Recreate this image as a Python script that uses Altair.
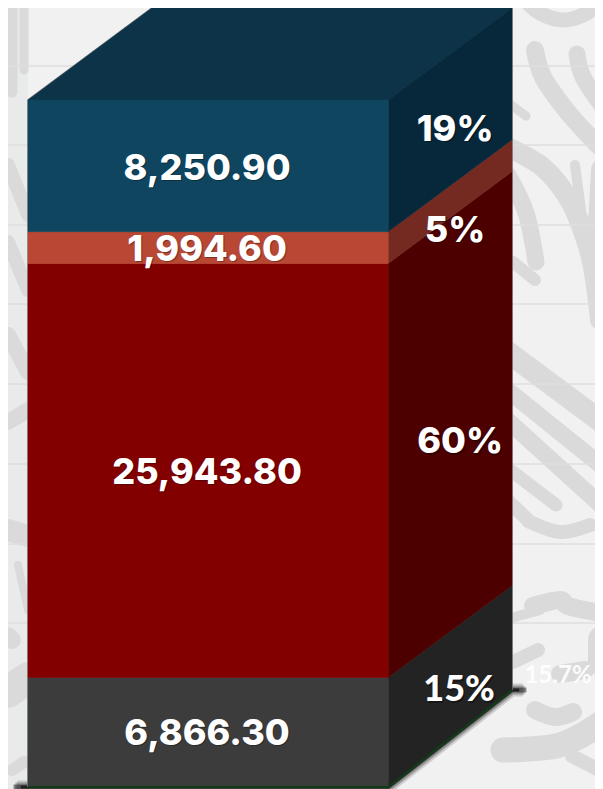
import altair as alt
import pandas as pd

# ---------- values ----------
segments = ["Resto", "Rojo", "Naranja", "Azul"]          # bottom to top
values = [6866.30, 25943.80, 1994.60, 8250.90]
value_labels = ["6,866.30", "25,943.80", "1,994.60", "8,250.90"]
share_labels = ["15%", "60%", "5%", "19%"]
front_colors = ["#3c3c3c", "#830000", "#b84733", "#0f455f"]
side_colors = ["#232323", "#4d0000", "#742a20", "#07283b"]
top_color = "#0c3347"
outside_label = "15.7%"
grid_rows = [66, 145, 225, 304, 384, 464, 544, 623]

# decorative background strokes: (width, picture points)
strokes = [
    (15, [(525, 0), (540, 13), (563, 20), (585, 14), (603, 0)]),
    (18, [(535, 50), (543, 77), (566, 110), (590, 137), (603, 150)]),
    (17, [(577, 54), (583, 77), (603, 107)]),
    (9, [(511, 105), (526, 116)]),
    (20, [(505, 146), (540, 165), (563, 190), (578, 218), (592, 262), (600, 320)]),
    (10, [(575, 165), (581, 210)]),
    (24, [(603, 170), (598, 262)]),
    (17, [(508, 175), (526, 213), (536, 262)]),
    (12, [(513, 262), (535, 280)]),
    (22, [(505, 350), (603, 423)]),
    (17, [(505, 388), (603, 467)]),
    (17, [(505, 418), (603, 507)]),
    (13, [(505, 466), (556, 505)]),
    (14, [(505, 498), (530, 522)]),
    (14, [(528, 521), (560, 532), (590, 525)]),
    (18, [(533, 606), (560, 600), (568, 606), (595, 612)]),
    (10, [(511, 618), (540, 610)]),
    (30, [(603, 640), (603, 662)]),
    (14, [(513, 662), (538, 650)]),
    (18, [(560, 674), (585, 670)]),
    (18, [(535, 710), (555, 717), (573, 712)]),
    (25, [(503, 750), (560, 745), (603, 722)]),
    (14, [(572, 756), (603, 772)]),
    (11, [(12, 0), (12, 92)]),
    (9, [(24, 0), (24, 70)]),
    (14, [(8, 165), (28, 215)]),
    (14, [(8, 242), (28, 290)]),
    (16, [(8, 335), (28, 372)]),
    (16, [(8, 422), (28, 410)]),
    (22, [(8, 530), (28, 536)]),
    (8, [(18, 565), (28, 610)]),
    (18, [(8, 636), (12, 640)]),
    (32, [(8, 692), (28, 678)]),
    (12, [(12, 770), (24, 762)]),
]

# ---------- layout in scale units ----------
DEPTH_X = 0.344
DEPTH_Y = 5766
DEPTH_Y_BASE = 6079
TOTAL = sum(values)

x_scale = alt.Scale(domain=[0, 1 + DEPTH_X], range=[20, 504], nice=False, zero=False)
y_scale = alt.Scale(domain=[0, TOTAL], range=[779, 92], nice=False, zero=False)
page_x = alt.Scale(domain=[0, 603], range=[-8, 595], nice=False, zero=False)
page_y = alt.Scale(domain=[0, 789], range=[-8, 781], nice=False, zero=False)

X = lambda f: alt.X(f, type="quantitative", scale=x_scale, axis=None)
X2 = lambda f: alt.X2(f)
Y = lambda f: alt.Y(f, type="quantitative", scale=y_scale, axis=None, stack=None)
Y2 = lambda f: alt.Y2(f)

# ---------- tables ----------
lows, highs, acc = [], [], 0.0
for v in values:
    lows.append(acc)
    acc += v
    highs.append(acc)

front = pd.DataFrame({
    "name": segments, "low": lows, "high": highs,
    "mid": [(a + b) / 2 for a, b in zip(lows, highs)],
    "x0": 0.0, "x1": 1.0, "xc": 0.5,
    "color": front_colors, "label": value_labels,
})

rows = []
for i, name in enumerate(segments):
    d_low = DEPTH_Y_BASE if i == 0 else DEPTH_Y
    rows.append(dict(face=name, x=1.0, low=lows[i], high=highs[i], color=side_colors[i]))
    rows.append(dict(face=name, x=1 + DEPTH_X, low=lows[i] + d_low, high=highs[i] + DEPTH_Y, color=side_colors[i]))
side = pd.DataFrame(rows)

top = pd.DataFrame({
    "x": [0.0, DEPTH_X, 1.0, 1 + DEPTH_X],
    "low": [TOTAL, TOTAL, TOTAL, TOTAL + DEPTH_Y],
    "high": [TOTAL, TOTAL + DEPTH_Y, TOTAL + DEPTH_Y, TOTAL + DEPTH_Y],
})

outline = pd.DataFrame({
    "x": [0.0, 0.0, DEPTH_X, 1 + DEPTH_X, 1 + DEPTH_X],
    "y": [0.0, TOTAL, TOTAL + DEPTH_Y, TOTAL + DEPTH_Y, DEPTH_Y_BASE],
    "o": [0, 1, 2, 3, 4],
})
base_edge = pd.DataFrame({
    "x": [0.0, 1.0, 1 + DEPTH_X],
    "y": [0.0, 0.0, DEPTH_Y_BASE],
    "o": [0, 1, 2],
})


def base_shadow(ext):
    return pd.DataFrame({
        "x": [-ext, 1.0, 1 + DEPTH_X, 1 + DEPTH_X + ext],
        "y": [0.0, 0.0, DEPTH_Y_BASE, DEPTH_Y_BASE],
        "o": [0, 1, 2, 3],
    })


# ---------- background ----------
left_band = alt.Chart(pd.DataFrame({"a": [0], "b": [28], "c": [0], "d": [789]})).mark_rect(color="#e9eaea").encode(
    x=alt.X("a:Q", scale=page_x, axis=None), x2="b:Q",
    y=alt.Y("c:Q", scale=page_y, axis=None), y2="d:Q",
)
stroke_layers = []
for k, (w, pts) in enumerate(strokes):
    df = pd.DataFrame({"x": [p[0] for p in pts], "y": [p[1] for p in pts], "o": list(range(len(pts)))})
    stroke_layers.append(
        alt.Chart(df).mark_line(color="#dadada", strokeWidth=w, strokeCap="round", strokeJoin="round",
                                interpolate="cardinal", clip=True).encode(
            x=alt.X("x:Q", scale=page_x, axis=None),
            y=alt.Y("y:Q", scale=page_y, axis=None),
            order="o:Q",
        )
    )
grid = alt.Chart(pd.DataFrame({"y": grid_rows})).mark_rule(color="#dedede", strokeWidth=1.5).encode(
    y=alt.Y("y:Q", scale=page_y, axis=None), x=alt.value(0), x2=alt.value(587),
)
outside = alt.Chart(pd.DataFrame({"x": [558], "y": [676], "t": [outside_label]})).mark_text(
    font="Lato", fontWeight="bold", fontSize=24, color="#ffffff", opacity=0.9,
).encode(
    x=alt.X("x:Q", scale=page_x, axis=None),
    y=alt.Y("y:Q", scale=page_y, axis=None),
    text="t:N",
)
background = alt.layer(left_band, *stroke_layers, grid, outside)

# ---------- box ----------
layers = []
for w, op, ext in [(13, 0.15, 0.03), (9, 0.25, 0.035), (5, 0.45, 0.04), (3, 0.6, 0.02)]:
    layers.append(alt.Chart(base_shadow(ext)).mark_line(color="#000000", strokeWidth=w, opacity=op).encode(
        x=X("x"), y=Y("y"), order="o:Q"))
layers.append(alt.Chart(outline).mark_line(color="#8a8a8a", strokeWidth=1.5).encode(x=X("x"), y=Y("y"), order="o:Q"))
layers.append(alt.Chart(top).mark_area(color=top_color, stroke=top_color, strokeWidth=0.6).encode(
    x=X("x"), y=Y("low"), y2=Y2("high")))
layers.append(alt.Chart(side).mark_area(strokeWidth=0.6).encode(
    x=X("x"), y=Y("low"), y2=Y2("high"),
    color=alt.Color("color:N", scale=None),
    stroke=alt.Color("color:N", scale=None), detail="face:N"))
layers.append(alt.Chart(front).mark_rect(strokeWidth=0.6).encode(
    x=X("x0"), x2=X2("x1"), y=Y("low"), y2=Y2("high"),
    color=alt.Color("color:N", scale=None),
    stroke=alt.Color("color:N", scale=None)))
layers.append(alt.Chart(base_edge).mark_line(color="#0f3d16", strokeWidth=2).encode(x=X("x"), y=Y("y"), order="o:Q"))

FONT = dict(font="Inter", fontWeight=800, fontSize=36)
front_text_nudge = [2, 3, 2, 3]
front_text_dx = [-1, -1, -1, -1]
for i in range(4):
    one = front.iloc[[i]]
    for off, col, op in [(1, "#000000", 0.3), (0, "#ffffff", 1.0)]:
        layers.append(alt.Chart(one).mark_text(color=col, opacity=op, dx=front_text_dx[i] + off, dy=front_text_nudge[i] + off, **FONT).encode(
            x=X("xc"), y=Y("mid"), text="label:N"))

side_dx = [9, 10, 5, 5]
side_dy = [4, 18, 29, 10]
side_font = ["Lato", "Inter", "Inter", "Inter"]
for i in range(4):
    one = pd.DataFrame({"x": [1 + DEPTH_X / 2], "y": [(lows[i] + highs[i]) / 2 + DEPTH_Y / 2], "t": [share_labels[i]]})
    f = dict(FONT)
    f["font"] = side_font[i]
    if side_font[i] == "Lato":
        f["fontWeight"] = 900
    for off, col, op in [(1.5, "#000000", 0.35), (0, "#ffffff", 1.0)]:
        layers.append(alt.Chart(one).mark_text(color=col, opacity=op, dx=side_dx[i] + off, dy=side_dy[i] + off, **f).encode(
            x=X("x"), y=Y("y"), text="t:N"))

box = alt.layer(*layers)

chart = alt.layer(background, box).resolve_scale(x="independent", y="independent").properties(
    width=587, height=781, padding=0, autosize=alt.AutoSizeParams(type="none"),
    background="#f1f1f1",
).configure_view(stroke=None)

chart.save("out.html", embed_options={"renderer": "svg", "actions": False})
